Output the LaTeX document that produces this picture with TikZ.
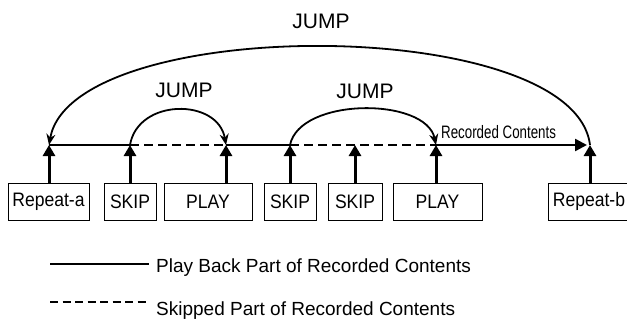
\documentclass[tikz,border=0pt]{standalone}
\usepackage{fontspec}
\setmainfont{Liberation Sans}
\newfontfamily\estrecha[FakeStretch=0.9]{Liberation Sans}
\newfontfamily\condensada[FakeStretch=0.74]{Liberation Sans}
\usetikzlibrary{arrows.meta}
\tikzset{
  marca/.style={draw,line width=1pt,font=\estrecha\fontsize{19.5}{19.5}\selectfont,
                minimum height=37pt,inner sep=0pt},
  subida/.style={-{Triangle[length=11pt,width=12pt]},line width=3pt},
  pista/.style={line width=2.5pt},
  omitido/.style={pista,dash pattern=on 9pt off 5pt},
  salto/.style={-{Stealth[length=11pt,width=9pt]},line width=1.8pt},
  rotulo/.style={font=\fontsize{21}{21}\selectfont},
  leyenda/.style={font=\fontsize{19}{19}\selectfont,anchor=west,inner sep=0pt},
}
\begin{document}
\begin{tikzpicture}[x=1pt,y=-1pt]
  \useasboundingbox (0,0) rectangle (627,324);
  \coordinate (t1) at (49,145);
  \coordinate (t2) at (130,145);
  \coordinate (t3) at (226,145);
  \coordinate (t4) at (290,145);
  \coordinate (t5) at (355,145);
  \coordinate (t6) at (436,145);
  \coordinate (t7) at (590,145);
  \node[marca,minimum width=81pt] (ra) at (48.5,201.5) {Repeat-a};
  \node[marca,minimum width=52pt] (s1) at (130,201.5) {SKIP};
  \node[marca,minimum width=88pt] (p1) at (208,201.5) {PLAY};
  \node[marca,minimum width=52pt] (s2) at (290,201.5) {SKIP};
  \node[marca,minimum width=54pt] (s3) at (355,201.5) {SKIP};
  \node[marca,minimum width=89pt] (p2) at (437.5,201.5) {PLAY};
  \node[marca,minimum width=82pt] (rb) at (589,201.5) {Repeat-b};
  \draw[pista] (t1) -- (t2);
  \draw[omitido] (t2) -- (t3);
  \draw[pista] (t3) -- (t4);
  \draw[omitido] (t4) -- (t6);
  \draw[pista,-{Triangle[length=12pt,width=12pt]},shorten >=3pt] (t6) -- (t7);
  \foreach \b/\t in {ra/t1,s1/t2,p1/t3,s2/t4,s3/t5,p2/t6,rb/t7}
    \draw[subida] (\t |- \b.north) -- (\t);
  \draw[salto] (t2) .. controls (138,98) and (218,98) .. (t3);
  \draw[salto] (t4) .. controls (300,97) and (426,97) .. (t6);
  \draw[salto] (t7) .. controls (574,14) and (72,14) .. (t1);
  \node[rotulo] (j0) at (321,21) {JUMP};
  \node[rotulo] (j1) at (184,90) {JUMP};
  \node[rotulo] (j2) at (365,91) {JUMP};
  \node[font=\condensada\fontsize{18}{18}\selectfont,anchor=base west,inner sep=0pt]
    (rc) at (441,138) {Recorded Contents};
  \coordinate (l1) at (50,264);
  \coordinate (l2) at (50,302);
  \node[leyenda] (lp) at (156,268) {Play Back Part of Recorded Contents};
  \node[leyenda] (ls) at (156,311) {Skipped Part of Recorded Contents};
  \draw[pista] (l1) -- ([xshift=-7pt]l1 -| lp.west);
  \draw[omitido,dash pattern=on 8pt off 4.5pt] (l2) -- ([xshift=-7pt]l2 -| ls.west);
\end{tikzpicture}
\end{document}
